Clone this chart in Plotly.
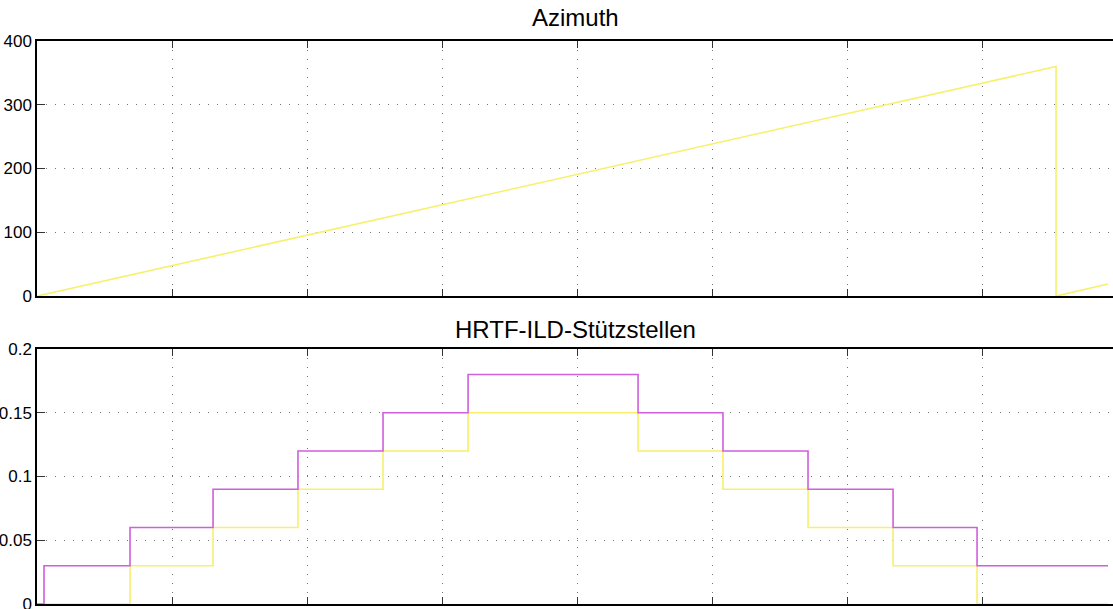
import plotly.graph_objects as go
from plotly.subplots import make_subplots

# Top panel: azimuth ramp (degrees) over time
az_x = [0, 7.548, 7.548, 7.933]
az_y = [0, 360, 0, 19]

# Bottom panel: HRTF-ILD support points (step functions)
ild_yellow_x = [0, 0.689, 1.304, 1.933, 2.563, 3.193, 4.452, 5.081, 5.711, 6.341, 6.963, 7.933]
ild_yellow_y = [0, 0.03, 0.06, 0.09, 0.12, 0.15, 0.12, 0.09, 0.06, 0.03, 0, 0]
ild_magenta_x = [0, 0.052, 0.689, 1.304, 1.933, 2.563, 3.193, 4.452, 5.081, 5.711, 6.341, 6.963, 7.933]
ild_magenta_y = [0, 0.03, 0.06, 0.09, 0.12, 0.15, 0.18, 0.15, 0.12, 0.09, 0.06, 0.03, 0.03]

top_ticks = [0, 100, 200, 300, 400]
top_ticklabels = ["0", "100", "200", "300", "400"]
bot_ticks = [0, 0.05, 0.1, 0.15, 0.2]
bot_ticklabels = ["0", "0.05", "0.1", "0.15", "0.2"]

YELLOW = "#f7f06a"
MAGENTA = "#cf5fdc"
FONT = "Liberation Sans, Arial, Helvetica, sans-serif"

fig = make_subplots(rows=2, cols=1, shared_xaxes=False)

fig.add_trace(go.Scatter(x=az_x, y=az_y, mode="lines",
                         line=dict(color=YELLOW, width=1.6), showlegend=False), row=1, col=1)
fig.add_trace(go.Scatter(x=ild_yellow_x, y=ild_yellow_y, mode="lines", line_shape="hv",
                         line=dict(color=YELLOW, width=1.6), showlegend=False), row=2, col=1)
fig.add_trace(go.Scatter(x=ild_magenta_x, y=ild_magenta_y, mode="lines", line_shape="hv",
                         line=dict(color=MAGENTA, width=1.6), showlegend=False), row=2, col=1)

xcommon = dict(range=[0, 7.97], dtick=1, tick0=0, showticklabels=False,
               showgrid=True, gridcolor="#777777", griddash="1px,8px", gridwidth=1,
               showline=True, linecolor="black", linewidth=1.5, mirror="ticks",
               ticks="inside", ticklen=7, tickcolor="#333", zeroline=False,
               automargin=False)
ycommon = dict(showgrid=True, gridcolor="#777777", griddash="1px,8px", gridwidth=1,
               showline=True, linecolor="black", linewidth=1.5, mirror=False,
               ticks="inside", ticklen=8, tickcolor="#333", zeroline=False,
               automargin=False, tickfont=dict(family=FONT, size=17, color="black"),
               ticklabelstandoff=0, ticklabeloverflow="allow")

fig.update_xaxes(**xcommon)
fig.update_yaxes(**ycommon)
fig.update_yaxes(range=[0, 400], tickvals=top_ticks, ticktext=top_ticklabels,
                 domain=[0.547, 1.0], row=1, col=1)
fig.update_yaxes(range=[0, 0.2], tickvals=bot_ticks, ticktext=bot_ticklabels,
                 domain=[0.0, 0.453], row=2, col=1)

fig.update_layout(
    width=1113, height=609,
    margin=dict(l=37, r=0, t=41, b=5),
    template="none",
    paper_bgcolor="white", plot_bgcolor="white",
    font=dict(family=FONT, color="black"),
    showlegend=False,
    annotations=[
        dict(text="Azimuth", xref="paper", yref="paper", x=0.5, y=1.041,
             xanchor="center", yanchor="middle", showarrow=False,
             font=dict(family=FONT, size=24, color="black")),
        dict(text="HRTF-ILD-Stützstellen", xref="paper", yref="paper", x=0.5, y=0.487,
             xanchor="center", yanchor="middle", showarrow=False,
             font=dict(family=FONT, size=24, color="black")),
    ],
)

fig.write_html("out.html")
